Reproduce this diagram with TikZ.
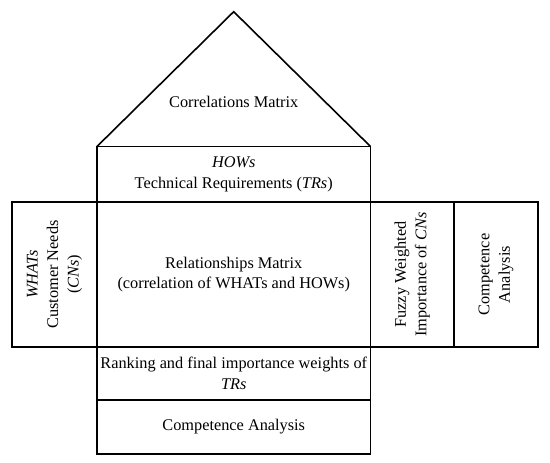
\documentclass[tikz,border=0pt]{standalone}
\usepackage{fontspec}
\setmainfont{Liberation Serif}
\begin{document}
\begin{tikzpicture}[x=1pt,y=-1pt,
  box/.style={draw=black,line width=1.6pt,rectangle,inner sep=0pt,outer sep=0pt},
  lbl/.style={align=center,inner sep=0pt,font=\fontsize{16.3}{20.5}\selectfont},
]
\useasboundingbox (0,0) rectangle (550,463);
% roof
\coordinate (apex) at (233.7,11.7);
\coordinate (rl) at (97,146.5);
\coordinate (rr) at (370.5,146.5);
\draw[line width=1.6pt,line join=miter] (rl) -- (apex) -- (rr);
\node[lbl] (corr) at (233.7,102) {Correlations Matrix};
% HOWs
\node[box,minimum width=273.5pt,minimum height=55.5pt] (hows) at (233.75,174.25) {};
\node[lbl] (howst) at (hows.center) {\textit{HOWs}\\Technical Requirements (\textit{TRs})};
% WHATs
\node[box,minimum width=85pt,minimum height=145pt] (whats) at (54.5,274.5) {};
\node[lbl,rotate=90] (whatst) at (whats.center) {\textit{WHATs}\\Customer Needs\\(\textit{CNs})};
% Relationships
\node[box,minimum width=273.5pt,minimum height=145pt] (rel) at (233.75,274.5) {};
\node[lbl] (relt) at (rel.center) {Relationships Matrix\\(correlation of WHATs and HOWs)};
% Fuzzy
\node[box,minimum width=83.5pt,minimum height=145pt] (fuzzy) at (412.25,274.5) {};
\node[lbl,rotate=90] (fuzzyt) at (fuzzy.center) {Fuzzy Weighted\\Importance of \textit{CNs}};
% Competence right
\node[box,minimum width=84pt,minimum height=145pt] (compr) at (496,274.5) {};
\node[lbl,rotate=90] (comprt) at (compr.center) {Competence\\Analysis};
% Ranking
\node[box,minimum width=273.5pt,minimum height=53pt] (rank) at (233.75,373.5) {};
\node[lbl] (rankt) at (rank.center) {Ranking and final importance weights of\\\textit{TRs}};
% Competence bottom
\node[box,minimum width=273.5pt,minimum height=54pt] (compb) at (233.75,427) {};
\node[lbl] (compbt) at (compb.center) {Competence Analysis};
\end{tikzpicture}
\end{document}
